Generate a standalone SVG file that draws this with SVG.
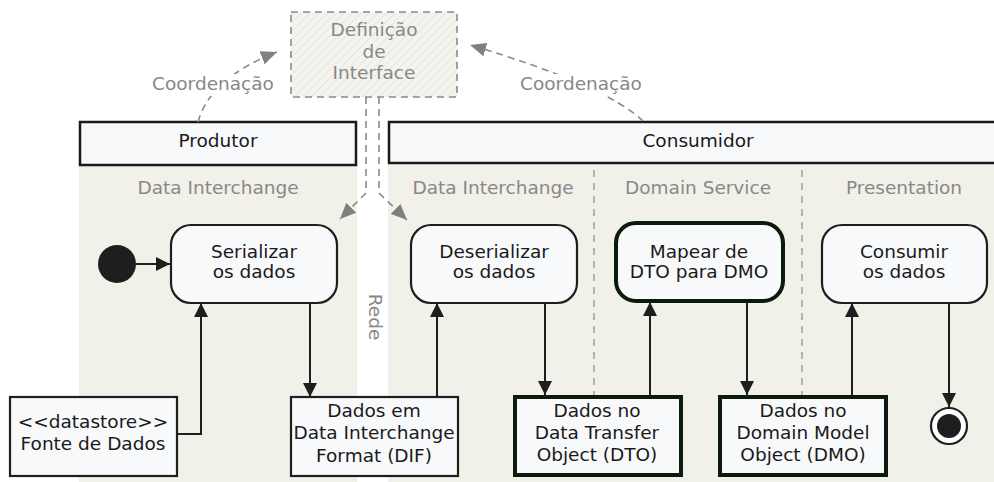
<svg xmlns="http://www.w3.org/2000/svg" width="994" height="482" viewBox="0 0 994 482">
  <style>
    text { font-family: "DejaVu Sans", "Liberation Sans", sans-serif; font-size: 18.5px; fill: #1a1a1a; text-anchor: middle; }
    .muted { fill: #888888; }
    .lane { fill: #f1f0e9; }
    .head { fill: #f8f9fb; stroke: #1a1a1a; stroke-width: 2.5; }
    .action { fill: #f8f9fb; stroke: #1e1e1e; stroke-width: 2.2; }
    .strong { fill: #f8f9fb; stroke: #0b1a0b; stroke-width: 4; }
    .obj { fill: #f8f9fb; stroke: #1e1e1e; stroke-width: 2.2; }
    .flow { fill: none; stroke: #1e1e1e; stroke-width: 2; }
    .dep { fill: none; stroke: #8a8a8a; stroke-width: 1.6; stroke-dasharray: 7 5; }
    .sep { fill: none; stroke: #9a9a9a; stroke-width: 1.4; stroke-dasharray: 7 6; }
  </style>
  <defs>
    <pattern id="hatch" width="6" height="6" patternUnits="userSpaceOnUse" patternTransform="rotate(45)">
      <rect width="6" height="6" fill="#f4f4ee"/>
      <line x1="0" y1="0" x2="0" y2="6" stroke="#e2e2da" stroke-width="1.5"/>
    </pattern>
    <marker id="arrow" markerUnits="userSpaceOnUse" markerWidth="14" markerHeight="14" refX="14" refY="7" orient="auto">
      <path d="M0,0 L14,7 L0,14 z" fill="#1e1e1e"/>
    </marker>
    <marker id="arrowGrey" markerUnits="userSpaceOnUse" markerWidth="16" markerHeight="14" refX="16" refY="7" orient="auto">
      <path d="M0,0 L16,7 L0,14 z" fill="#808080"/>
    </marker>
  </defs>

  <!-- swimlane backgrounds -->
  <g id="lanes">
    <rect class="lane" x="79" y="165" width="278" height="317"/>
    <rect class="lane" x="388" y="163" width="606" height="319"/>
    <line class="sep" x1="594" y1="170" x2="594" y2="482"/>
    <line class="sep" x1="802" y1="170" x2="802" y2="482"/>
  </g>

  <!-- interface definition -->
  <g id="interface">
    <rect x="291" y="12" width="166" height="85" fill="url(#hatch)" stroke="#8a8a8a" stroke-width="1.6" stroke-dasharray="7 5"/>
    <text class="muted" x="374" y="36">Definição</text>
    <text class="muted" x="374" y="58">de</text>
    <text class="muted" x="374" y="79">Interface</text>
  </g>

  <g id="produtor">
    <rect class="head" x="80" y="122" width="276" height="43"/>
    <text x="218" y="147">Produtor</text>
    <text class="muted" x="218" y="194">Data Interchange</text>
  </g>

  <g id="consumidor">
    <rect class="head" x="389" y="122" width="630" height="41"/>
    <text x="698" y="147">Consumidor</text>
    <text class="muted" x="493" y="194">Data Interchange</text>
    <text class="muted" x="698" y="194">Domain Service</text>
    <text class="muted" x="904" y="194">Presentation</text>
  </g>

  <text id="rede" class="muted" transform="translate(369,317) rotate(90)">Rede</text>

  <!-- connectors -->
  <g id="connectors">
    <path class="dep" d="M198,122 Q210,78 277,52" marker-end="url(#arrowGrey)"/>
    <path class="dep" d="M643,121 Q605,85 470,45" marker-end="url(#arrowGrey)"/>
    <path class="dep" d="M366,97 V193 L340,219" marker-end="url(#arrowGrey)"/>
    <path class="dep" d="M379,97 V193 L407,220" marker-end="url(#arrowGrey)"/>

    <path class="flow" d="M136,264 H170" marker-end="url(#arrow)"/>
    <path class="flow" d="M177,434 H201 V303" marker-end="url(#arrow)"/>
    <path class="flow" d="M310,303 V397" marker-end="url(#arrow)"/>
    <path class="flow" d="M437,397 V303" marker-end="url(#arrow)"/>
    <path class="flow" d="M545,303 V395" marker-end="url(#arrow)"/>
    <path class="flow" d="M650,395 V302" marker-end="url(#arrow)"/>
    <path class="flow" d="M747,302 V395" marker-end="url(#arrow)"/>
    <path class="flow" d="M852,395 V303" marker-end="url(#arrow)"/>
    <path class="flow" d="M949,303 V407" marker-end="url(#arrow)"/>
  </g>

  <!-- dependency labels -->
  <g id="label-coord-left">
    <rect x="150" y="74" width="126" height="22" fill="#ffffff"/>
    <text class="muted" x="213" y="90">Coordenação</text>
  </g>
  <g id="label-coord-right">
    <rect x="518" y="74" width="126" height="22" fill="#ffffff"/>
    <text class="muted" x="581" y="90">Coordenação</text>
  </g>

  <g id="start">
    <circle cx="117" cy="264" r="19" fill="#1e1e1e"/>
  </g>

  <g id="serializar">
    <rect class="action" x="171" y="225" width="166" height="78" rx="20"/>
    <text x="254" y="258">Serializar</text>
    <text x="254" y="278">os dados</text>
  </g>

  <g id="deserializar">
    <rect class="action" x="411" y="225" width="166" height="78" rx="20"/>
    <text x="494" y="258">Deserializar</text>
    <text x="494" y="278">os dados</text>
  </g>

  <g id="mapear">
    <rect class="strong" x="616" y="223" width="167" height="78" rx="20"/>
    <text x="699" y="258">Mapear de</text>
    <text x="699" y="278">DTO para DMO</text>
  </g>

  <g id="consumir">
    <rect class="action" x="822" y="225" width="165" height="78" rx="20"/>
    <text x="904" y="258">Consumir</text>
    <text x="904" y="278">os dados</text>
  </g>

  <g id="fonte">
    <rect class="obj" x="10" y="397" width="167" height="79"/>
    <text x="93" y="428">&lt;&lt;datastore&gt;&gt;</text>
    <text x="93" y="450">Fonte de Dados</text>
  </g>

  <g id="dif">
    <rect class="obj" x="291" y="397" width="167" height="79"/>
    <text x="374" y="417">Dados em</text>
    <text x="374" y="439">Data Interchange</text>
    <text x="374" y="462">Format (DIF)</text>
  </g>

  <g id="dto">
    <rect class="strong" x="515" y="397" width="166" height="78"/>
    <text x="597" y="417">Dados no</text>
    <text x="597" y="439">Data Transfer</text>
    <text x="597" y="461">Object (DTO)</text>
  </g>

  <g id="dmo">
    <rect class="strong" x="720" y="397" width="166" height="78"/>
    <text x="803" y="417">Dados no</text>
    <text x="803" y="439">Domain Model</text>
    <text x="803" y="461">Object (DMO)</text>
  </g>

  <g id="end">
    <circle cx="949" cy="426" r="18" fill="#ffffff" stroke="#1e1e1e" stroke-width="2.2"/>
    <circle cx="949" cy="426" r="12" fill="#1e1e1e"/>
  </g>
</svg>
